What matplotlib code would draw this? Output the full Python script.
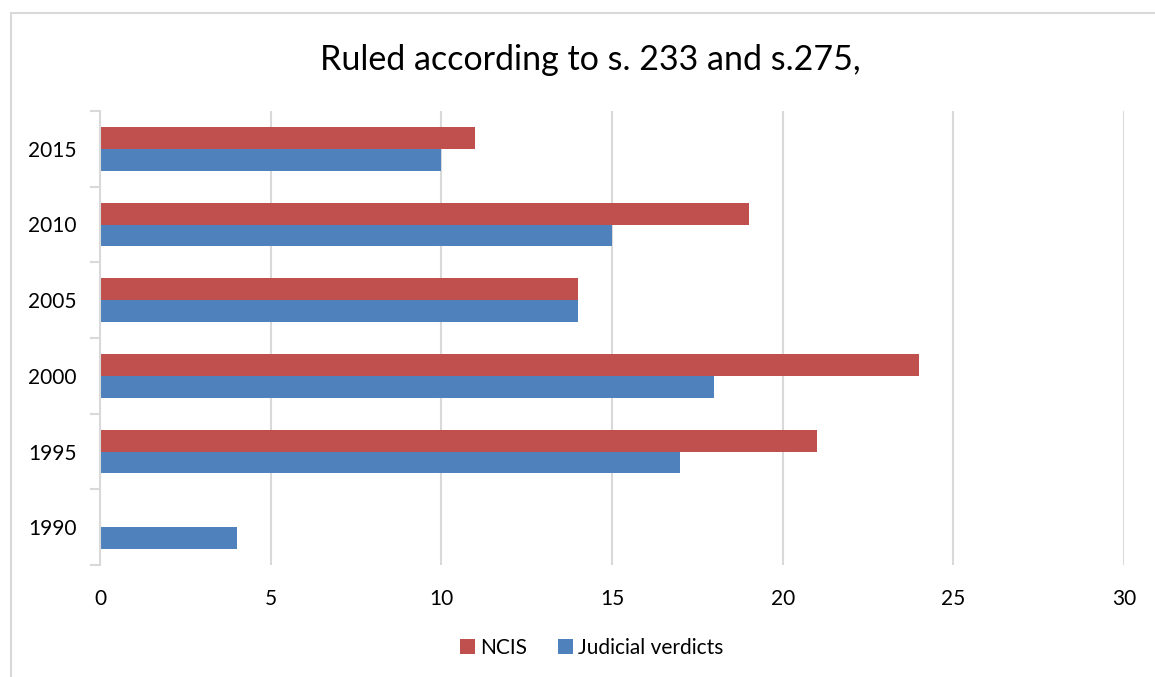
import matplotlib.pyplot as plt
import numpy as np
from matplotlib.patches import Rectangle

plt.rcParams['font.family'] = ['Lato', 'DejaVu Sans']

years = ['1990', '1995', '2000', '2005', '2010', '2015']
ncis = [0, 21, 24, 14, 19, 11]
judicial = [4, 17, 18, 14, 15, 10]

ncis_color = '#C0504D'
judicial_color = '#4F81BD'
grid_color = '#D9D9D9'

W, H = 1155, 677
fig = plt.figure(figsize=(W / 100, H / 100), dpi=100)

# light frame around the chart area
fig.patches.append(Rectangle((11 / W, -0.1), 1.2, 1 - 13 / H + 0.1,
                             transform=fig.transFigure, fill=False,
                             edgecolor=grid_color, linewidth=1.5))

ax = fig.add_axes([100 / W, 1 - 565 / H, (1124 - 100) / W, (565 - 111) / H])

y = np.arange(len(years))
bar_h = 0.29
ax.barh(y - bar_h / 2, judicial, height=bar_h, color=judicial_color, label='Judicial verdicts')
ax.barh(y + bar_h / 2, ncis, height=bar_h, color=ncis_color, label='NCIS')

ax.set_xlim(0, 30)
ax.set_ylim(-0.5, len(years) - 0.5)
ax.set_xticks(np.arange(0, 31, 5))
ax.set_yticks(y)
ax.set_yticklabels(years)
ax.set_yticks(np.arange(-0.5, len(years), 1), minor=True)

ax.grid(axis='x', color=grid_color, linewidth=1.5)
ax.set_axisbelow(True)
for side in ['top', 'right', 'bottom']:
    ax.spines[side].set_visible(False)
ax.spines['left'].set_color(grid_color)
ax.spines['left'].set_linewidth(1.5)

ax.tick_params(axis='x', length=0, pad=17, labelsize=15)
ax.tick_params(axis='y', which='major', length=0, pad=17, labelsize=15)
ax.tick_params(axis='y', which='minor', length=7, width=1.5, color=grid_color)

fig.text(590 / W, 1 - 60 / H, 'Ruled according to s. 233 and s.275,',
         ha='center', va='center', fontsize=24.5)

handles, labels = ax.get_legend_handles_labels()
fig.legend(handles[::-1], labels[::-1], loc='center', bbox_to_anchor=(592 / W, 1 - 648 / H),
           ncol=2, frameon=False, fontsize=15, handlelength=0.7, handleheight=0.7,
           handletextpad=0.25, columnspacing=1.5)

fig.savefig('out.png', dpi=100)
